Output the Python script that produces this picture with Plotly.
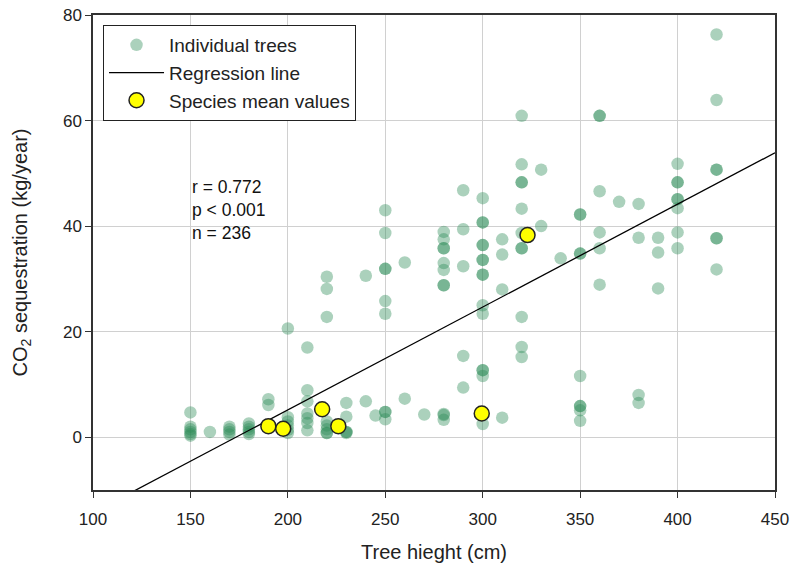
import plotly.graph_objects as go

# Individual trees: height (cm) and CO2 sequestration (kg/year)
tree_height = (
    [150]*6 + [160] + [170]*4 + [180]*5 + [190]*2 + [200]*6 + [210]*7 + [220]*8 +
    [230]*5 + [240]*2 + [245] + [250]*9 + [260]*2 + [270] + [280]*11 + [290]*5 +
    [300]*15 + [310]*4 + [320]*11 + [330]*2 + [340] + [350]*9 + [360]*6 + [370] +
    [380]*4 + [390]*3 + [400]*8 + [420]*7
)
co2_seq = [
    4.7, 2.0, 1.5, 1.0, 0.6, 0.3,
    1.0,
    2.0, 1.5, 1.0, 0.5,
    2.6, 2.0, 1.5, 1.0, 0.6,
    7.2, 6.1,
    20.6, 3.8, 3.0, 2.2, 1.4, 0.8,
    17.0, 8.9, 6.8, 4.5, 3.6, 2.7, 1.3,
    30.4, 28.1, 22.8, 3.0, 2.2, 1.5, 0.8, 0.8,
    6.5, 3.9, 1.0, 1.0, 0.8,
    30.6, 6.8,
    4.1,
    43.0, 38.7, 31.9, 31.9, 25.8, 23.4, 4.8, 4.8, 3.4,
    33.1, 7.3,
    4.3,
    38.9, 37.5, 35.8, 35.8, 33.0, 31.7, 28.8, 28.8, 4.4, 4.2, 3.3,
    46.8, 39.4, 32.4, 15.4, 9.4,
    45.3, 40.7, 40.7, 36.4, 36.4, 33.6, 33.6, 30.8, 30.8, 25.0, 23.4, 12.7, 12.7, 11.6, 2.5,
    37.5, 34.6, 28.0, 3.7,
    60.9, 51.7, 48.3, 48.3, 43.3, 38.7, 35.8, 35.8, 22.8, 17.1, 15.2,
    50.7, 40.0,
    33.9,
    42.2, 42.2, 34.8, 34.8, 11.6, 5.9, 5.9, 5.1, 3.1,
    60.9, 60.9, 46.6, 38.8, 35.8, 28.9,
    44.6,
    44.2, 37.8, 8.0, 6.5,
    37.8, 35.0, 28.2,
    51.8, 48.3, 48.3, 45.1, 45.1, 43.4, 38.8, 35.8,
    76.3, 63.9, 50.7, 50.7, 37.7, 37.7, 31.8,
]

# Species means
mean_height = [190, 197.6, 217.6, 225.9, 299.5, 323]
mean_co2 = [2.1, 1.6, 5.3, 2.1, 4.5, 38.3]

# Regression line coefficients
slope = 0.1948
intercept = -33.77
line_x = [100, 450]
line_y = [slope * x + intercept for x in line_x]

x_ticks = [100, 150, 200, 250, 300, 350, 400, 450]
y_ticks = [0, 20, 40, 60, 80]

FONT = "Liberation Sans, Arial, sans-serif"

fig = go.Figure()
fig.add_trace(go.Scatter(
    x=tree_height, y=co2_seq, mode="markers", name="Individual trees",
    marker=dict(size=12.5, color="rgba(46,139,87,0.4)", line=dict(width=0)),
))
fig.add_trace(go.Scatter(
    x=line_x, y=line_y, mode="lines", name="Regression line",
    line=dict(color="black", width=1.3),
))
fig.add_trace(go.Scatter(
    x=mean_height, y=mean_co2, mode="markers", name="Species mean values",
    marker=dict(size=15, color="#ffff00", line=dict(color="#222", width=1.5)),
))

fig.add_annotation(
    x=150, y=43, xref="x", yref="y", xanchor="left", yanchor="middle",
    text="r = 0.772<br>p < 0.001<br>n = 236", showarrow=False, align="left",
    font=dict(family=FONT, size=17.5, color="#111"),
)

axis_common = dict(
    showline=True, linecolor="#333", linewidth=1.5, mirror=True,
    showgrid=True, gridcolor="#d0d0d0", gridwidth=1,
    ticks="outside", ticklen=6, tickcolor="#333", tickwidth=1.3,
    zeroline=False, tickfont=dict(family=FONT, size=17, color="#222"),
    automargin=False,
)

fig.update_layout(
    width=790, height=569,
    margin=dict(l=93, r=15, t=15, b=79),
    paper_bgcolor="white", plot_bgcolor="white",
    showlegend=True,
    legend=dict(
        x=0.0147, y=0.979, xanchor="left", yanchor="top",
        bordercolor="#222", borderwidth=1, bgcolor="white",
        font=dict(family=FONT, size=19, color="#222"),
        itemwidth=55, tracegroupgap=0,
    ),
    xaxis=dict(range=[100, 450], tickvals=x_ticks, ticklabelstandoff=7,
               title=dict(text="Tree hieght (cm)", font=dict(family=FONT, size=20, color="#222"), standoff=17),
               **axis_common),
    yaxis=dict(range=[-10, 80], tickvals=y_ticks,
               title=dict(text="CO<sub>2</sub> sequestration (kg/year)", font=dict(family=FONT, size=20, color="#222"), standoff=30),
               **axis_common),
)

fig.write_html("out.html")
